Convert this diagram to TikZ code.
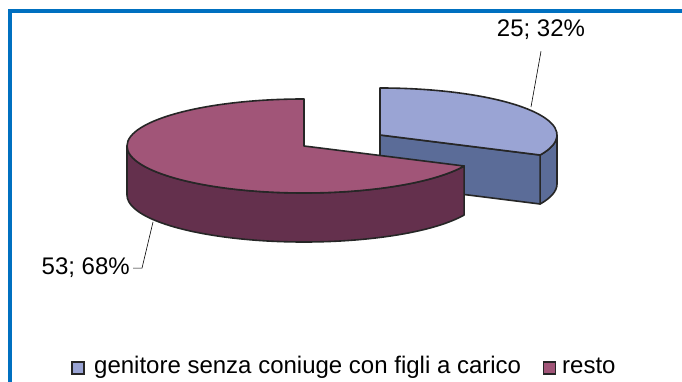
\documentclass[tikz,border=0pt]{standalone}
\usepackage{fontspec}
\setmainfont{Liberation Sans}
\definecolor{frameblue}{RGB}{0,112,192}
\definecolor{bluetop}{RGB}{154,164,212}
\definecolor{blueside}{RGB}{91,108,152}
\definecolor{magtop}{RGB}{161,85,120}
\definecolor{magside}{RGB}{100,48,77}
\tikzset{rim/.style={draw=black!85,line width=1.6pt,line join=round},
  lbl/.style={inner sep=3pt},
  legbox/.style={draw=black!85,line width=1.6pt,minimum size=12pt,inner sep=0pt}}

\begin{document}
\begin{tikzpicture}[x=1pt,y=1pt,font=\fontsize{24}{28}\selectfont]
  \useasboundingbox (0,0) rectangle (682,382);
  \draw[frameblue,line width=3.3pt] (10,0) -- (10,371) -- (682,371);
  % exploded slice, 32%
  \coordinate (bc) at (380,247);
  \path (bc) ++(0,-49) coordinate (bcb);
  \path (bc) ++(-25.2:177 and 47) coordinate (be);
  \draw[rim,fill=blueside] (be) arc[start angle=-25.2,end angle=0,x radius=177,y radius=47]
    -- ++(0,-49) arc[start angle=0,end angle=-25.2,x radius=177,y radius=47] -- cycle;
  \draw[rim,fill=blueside] (bc) -- (be) -- ++(0,-49) -- (bcb) -- cycle;
  \draw[rim,fill=bluetop] (bc) -- (be) arc[start angle=-25.2,end angle=90,x radius=177,y radius=47] -- cycle;
  % rest, 68%
  \coordinate (mc) at (304,236);
  \path (mc) ++(180:177 and 47) coordinate (ml);
  \draw[rim,fill=magside] (ml) arc[start angle=180,end angle=334.8,x radius=177,y radius=47]
    -- ++(0,-49) arc[start angle=334.8,end angle=180,x radius=177,y radius=47] -- cycle;
  \draw[rim,fill=magtop] (mc) -- ++(0,47) arc[start angle=90,end angle=334.8,x radius=177,y radius=47] -- cycle;
  % data labels
  \node[lbl,anchor=base] (lblue) at (541,345) {25; 32\%};
  \node[lbl,anchor=base east] (lmag) at (133,107) {53; 68\%};
  \coordinate (bp) at (531,275);
  \coordinate (mp) at (153,160);
  \draw[line width=0.6pt] ([yshift=-8pt]lblue.south) -- (bp);
  \draw[line width=0.6pt] (lmag.east) -- ++(9,0) -- (mp);
  % legend
  \node[legbox,fill=bluetop] (kblue) at (78,14) {};
  \node[lbl,anchor=base west] (tblue) at (91,8.5) {genitore senza coniuge con figli a carico};
  \node[legbox,fill=magtop] (kmag) at (549.5,14) {};
  \node[lbl,anchor=base west] (tmag) at (559,8.5) {resto};
\end{tikzpicture}
\end{document}
